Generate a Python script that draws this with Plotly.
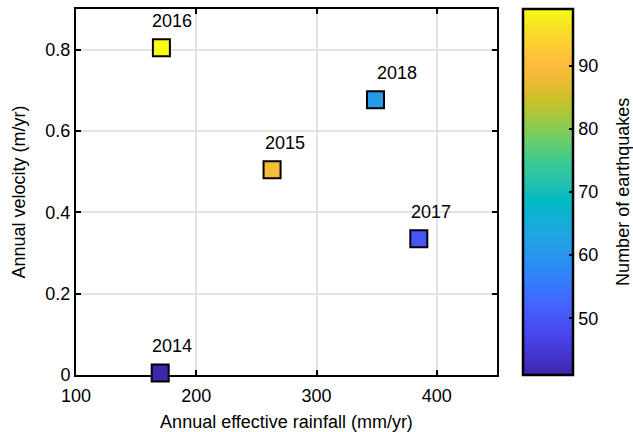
import plotly.graph_objects as go

# Annual observations
years = ["2014", "2015", "2016", "2017", "2018"]
rainfall = [170, 263, 171, 385, 349]          # mm/yr
velocity = [0.005, 0.505, 0.805, 0.335, 0.677]  # m/yr
quakes = [41, 89, 99, 50, 61]                 # number of earthquakes
label_dx = [12, 13, 11, 12, 21]               # label offsets (px) to the right of each marker

x_ticks = [100, 200, 300, 400]
y_ticks = [0, 0.2, 0.4, 0.6, 0.8]
y_tick_text = ["0", "0.2", "0.4", "0.6", "0.8"]
cb_ticks = [50, 60, 70, 80, 90]

# MATLAB parula colormap (subsampled)
parula = [
    (0.2422, 0.1504, 0.6603), (0.2647, 0.1978, 0.7952), (0.2783, 0.2559, 0.8991),
    (0.2810, 0.3228, 0.9579), (0.2699, 0.3892, 0.9906), (0.2206, 0.4603, 0.9973),
    (0.1786, 0.5289, 0.9682), (0.1540, 0.5902, 0.9218), (0.1248, 0.6459, 0.8883),
    (0.0689, 0.6948, 0.8394), (0.0067, 0.7312, 0.7660), (0.1408, 0.7584, 0.6842),
    (0.2161, 0.7843, 0.5923), (0.3406, 0.8008, 0.4789), (0.5044, 0.7993, 0.3480),
    (0.6720, 0.7793, 0.2227), (0.8203, 0.7498, 0.1535), (0.9393, 0.7288, 0.2100),
    (0.9956, 0.7434, 0.2371), (0.9892, 0.8136, 0.1885), (0.9610, 0.8890, 0.1537),
    (0.9769, 0.9839, 0.0805),
]
n = len(parula) - 1
colorscale = [
    [i / n, "rgb({:.0f},{:.0f},{:.0f})".format(r * 255, g * 255, b * 255)]
    for i, (r, g, b) in enumerate(parula)
]

FONT = "Liberation Sans, Arial, Helvetica, sans-serif"
TXT = dict(family=FONT, size=18, color="black")

fig = go.Figure()
fig.add_trace(go.Scatter(
    x=rainfall, y=velocity, mode="markers", cliponaxis=False,
    marker=dict(
        symbol="square", size=17, color=quakes, colorscale=colorscale,
        cmin=min(quakes), cmax=max(quakes),
        line=dict(color="black", width=2),
        colorbar=dict(
            x=1.062, xanchor="left", xpad=0, y=0.5, yanchor="middle", len=1.0, ypad=0,
            thickness=50, outlinewidth=2.5, outlinecolor="black",
            tickvals=cb_ticks, ticks="inside", ticklen=5, tickwidth=2, tickcolor="black",
            tickfont=TXT,
        ),
    ),
    showlegend=False, hoverinfo="skip",
))

for yr, xv, yv, dx in zip(years, rainfall, velocity, label_dx):
    fig.add_annotation(x=xv, y=yv, text=yr, showarrow=False, xshift=dx, yshift=27,
                       font=TXT)

# colour bar label, rotated, to the right of the tick labels
fig.add_annotation(xref="paper", yref="paper", x=1.299, y=0.5, xanchor="center",
                   yanchor="middle", text="Number of earthquakes", textangle=-90,
                   showarrow=False, font=TXT)

axis_common = dict(
    showline=True, linecolor="black", linewidth=2, mirror="ticks",
    ticks="inside", ticklen=5, tickwidth=2, tickcolor="black",
    showgrid=True, gridcolor="#e3e3e3", gridwidth=1.5, zeroline=False,
    layer="below traces", automargin=False,
    tickfont=TXT,
)

fig.update_xaxes(range=[100, 450], tickvals=x_ticks, ticklabelstandoff=3,
                 title=dict(text="Annual effective rainfall (mm/yr)", standoff=11, font=TXT),
                 **axis_common)
fig.update_yaxes(range=[0, 0.9], tickvals=y_ticks, ticktext=y_tick_text,
                 title=dict(text="Annual velocity (m/yr)", standoff=15, font=TXT),
                 **axis_common)

fig.update_layout(
    width=633, height=432,
    margin=dict(l=76, r=136, t=9, b=57, autoexpand=False),
    paper_bgcolor="white", plot_bgcolor="white",
)

fig.write_html("out.html")
